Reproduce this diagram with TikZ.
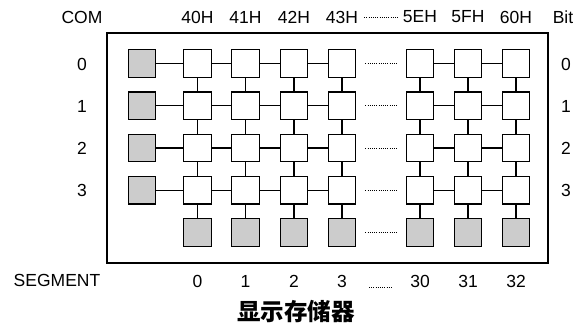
\documentclass[tikz,border=0pt]{standalone}
\usepackage{fontspec}
\setmainfont{Liberation Sans}
\newfontfamily\cjk{Noto Sans CJK SC}
\usetikzlibrary{positioning}

\tikzset{
	cell/.style={draw, line width=1.3pt, fill=white, minimum size=27.5pt, inner sep=0pt},
	greycell/.style={cell, fill=black!20},
	link/.style={line width=1.3pt},
	dots/.style={line width=0.9pt, dash pattern=on 0.9pt off 1.3pt},
	lbl/.style={font=\fontsize{17.5}{20}\selectfont, inner sep=0pt}
}

\begin{document}
\begin{tikzpicture}[x=1pt, y=-1pt]
		\useasboundingbox (0, 0) rectangle (580, 327);
		\draw[line width=1.3pt] (107, 33) rectangle (548, 263);
		%%
		\node[lbl] (com) at (82, 17) {COM};
		\node[lbl] (bit) at (563, 17) {Bit};
		\node[lbl] (segment) at (57, 280) {SEGMENT};
		\node[font=\cjk\bfseries\fontsize{23.5}{26}\selectfont] (title) at (296, 312) {显示存储器};
		%%
		\foreach \r in {0, 1, 2, 3} {
			\node[greycell] (com-\r) at (142, 63.5+42.25*\r) {};
			\node[lbl] (left-\r) at (82, 64+42.25*\r) {\r};
			\node[lbl] (right-\r) at (566, 64+42.25*\r) {\r};
		}
		%%
		\foreach \k/\x/\addr/\seg in {1/197.5/40H/0, 2/245.5/41H/1, 3/294/42H/2, 4/342/43H/3, 5/420/5EH/30, 6/468/5FH/31, 7/516/60H/32} {
			\node[lbl] (addr-\k) at (\x, 17) {\addr};
			\node[lbl] (seg-lbl-\k) at (\x, 281) {\seg};
			\foreach \r in {0, 1, 2, 3}
				\node[cell] (c-\r-\k) at (\x, 63.5+42.25*\r) {};
			\node[greycell] (seg-\k) at (\x, 232.5) {};
		}
		%%
		\foreach \r in {0, 1, 2, 3} {
			\draw[link] (com-\r) -- (c-\r-1);
			\foreach \k/\n in {1/2, 2/3, 3/4, 5/6, 6/7}
				\draw[link] (c-\r-\k) -- (c-\r-\n);
			\draw[dots] ([xshift=9pt]c-\r-4.east) -- ([xshift=-9pt]c-\r-5.west);
		}
		\draw[dots] ([xshift=9pt]seg-4.east) -- ([xshift=-9pt]seg-5.west);
		%%
		\foreach \k in {1, ..., 7} {
			\foreach \r/\n in {0/1, 1/2, 2/3}
				\draw[link] (c-\r-\k) -- (c-\n-\k);
			\draw[link] (c-3-\k) -- (seg-\k);
		}
		%%
		\coordinate (top-dots-a) at ([xshift=6pt]addr-4.east);
		\coordinate (top-dots-b) at ([xshift=-5pt]addr-5.west);
		\draw[dots] (top-dots-a) -- (top-dots-b);
		\coordinate (bot-dots-a) at ([xshift=22pt]seg-lbl-4.base east);
		\coordinate (bot-dots-b) at ([xshift=-17pt]seg-lbl-5.base west);
		\draw[dots] ([yshift=-0.5pt]bot-dots-a) -- ([yshift=-0.5pt]bot-dots-b);
	\end{tikzpicture}
\end{document}
